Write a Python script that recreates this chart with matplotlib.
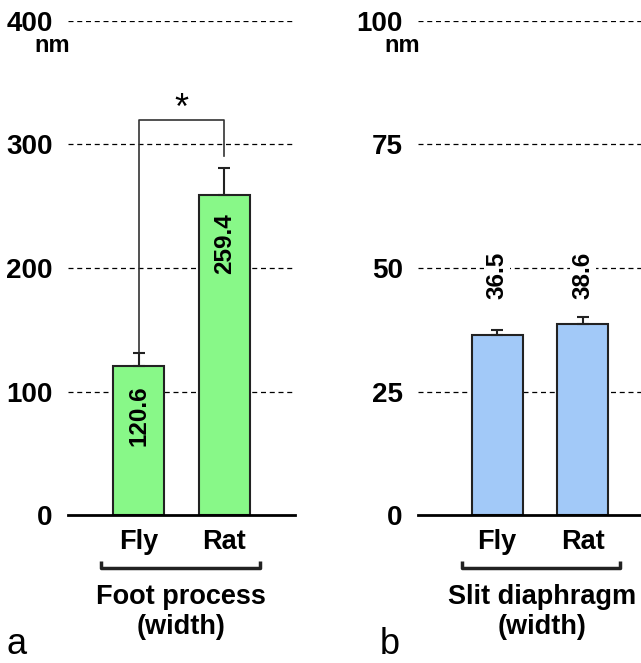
import matplotlib.pyplot as plt

plt.rcParams['font.family'] = ['Liberation Sans', 'DejaVu Sans']

groups = ["Fly", "Rat"]
foot_vals = [120.6, 259.4]
foot_err = [10.6, 21.6]
slit_vals = [36.5, 38.6]
slit_err = [1.0, 1.4]
foot_ticks = [0, 100, 200, 300, 400]
slit_ticks = [0, 25, 50, 75, 100]

W, H = 641, 663
fig = plt.figure(figsize=(W / 100, H / 100), dpi=100)

def px(x, y):
    return x / W, 1 - y / H

def setup(ax, ticks, xlim):
    ax.set_ylim(ticks[0], ticks[-1])
    ax.set_xlim(*xlim)
    ax.set_yticks(ticks)
    ax.set_yticklabels([str(t) for t in ticks], fontsize=20, fontweight='bold')
    ax.set_xticks(range(len(groups)))
    ax.set_xticklabels(groups, fontsize=19.5, fontweight='bold')
    ax.tick_params(axis='y', length=0, pad=11)
    ax.tick_params(axis='x', length=0, pad=10)
    for s in ['left', 'right', 'top']:
        ax.spines[s].set_visible(False)
    ax.spines['bottom'].set_linewidth(2)
    for t in ticks[1:]:
        ax.axhline(t, color='black', lw=0.9, ls=(0, (4, 3)), zorder=0)

# panel a
ax1 = fig.add_axes([68 / W, 1 - 515 / H, 227 / W, 494 / H])
setup(ax1, foot_ticks, (-0.82, 1.82))
ax1.bar(range(2), foot_vals, width=0.593, color='#88f888', edgecolor='#222222', lw=1.5, zorder=2)
ax1.errorbar(range(2), foot_vals, yerr=[[0, 0], foot_err], fmt='none', ecolor='#222222',
             elinewidth=1.5, capsize=4, capthick=1.5, zorder=3)
for i, v in enumerate(foot_vals):
    ax1.text(i, v - 40, f"{v}", rotation=90, ha='center', va='center', fontsize=17.5, fontweight='bold')
# significance bracket
top = 320
ax1.plot([0, 0, 1, 1], [foot_vals[0] + foot_err[0], top, top, 291], color='#333333', lw=1.2)
ax1.text(0.5, 328, "*", ha='center', va='center', fontsize=26)
ax1.plot([-0.436, -0.436, 1.41, 1.41], [-37, -43, -43, -37], color='#222222', lw=2.5,
         clip_on=False, solid_capstyle='butt')

# panel b
ax2 = fig.add_axes([418 / W, 1 - 515 / H, 223 / W, 494 / H])
setup(ax2, slit_ticks, (-0.924, 1.68))
ax2.bar(range(2), slit_vals, width=0.593, color='#a2c9f8', edgecolor='#222222', lw=1.5, zorder=2)
ax2.errorbar(range(2), slit_vals, yerr=[[0, 0], slit_err], fmt='none', ecolor='#222222',
             elinewidth=1.5, capsize=4, capthick=1.5, zorder=3)
for i, v in enumerate(slit_vals):
    ax2.text(i, 48.5, f"{v}", rotation=90, ha='center', va='center', fontsize=17.5, fontweight='bold',
             bbox=dict(facecolor='white', edgecolor='none', pad=1))
ax2.plot([-0.41, -0.41, 1.44, 1.44], [-9.3, -10.7, -10.7, -9.3], color='#222222', lw=2.5,
         clip_on=False, solid_capstyle='butt')

# labels outside axes
fig.text(*px(52, 45), "nm", ha='center', va='center', fontsize=17, fontweight='bold')
fig.text(*px(402, 45), "nm", ha='center', va='center', fontsize=17, fontweight='bold')
fig.text(*px(181, 597), "Foot process", ha='center', va='center', fontsize=19.5, fontweight='bold')
fig.text(*px(181, 627), "(width)", ha='center', va='center', fontsize=19.5, fontweight='bold')
fig.text(*px(542, 597), "Slit diaphragm", ha='center', va='center', fontsize=19.5, fontweight='bold')
fig.text(*px(542, 627), "(width)", ha='center', va='center', fontsize=19.5, fontweight='bold')
fig.text(*px(17, 645), "a", ha='center', va='center', fontsize=26)
fig.text(*px(390, 645), "b", ha='center', va='center', fontsize=26)

fig.savefig("out.png", dpi=100)
